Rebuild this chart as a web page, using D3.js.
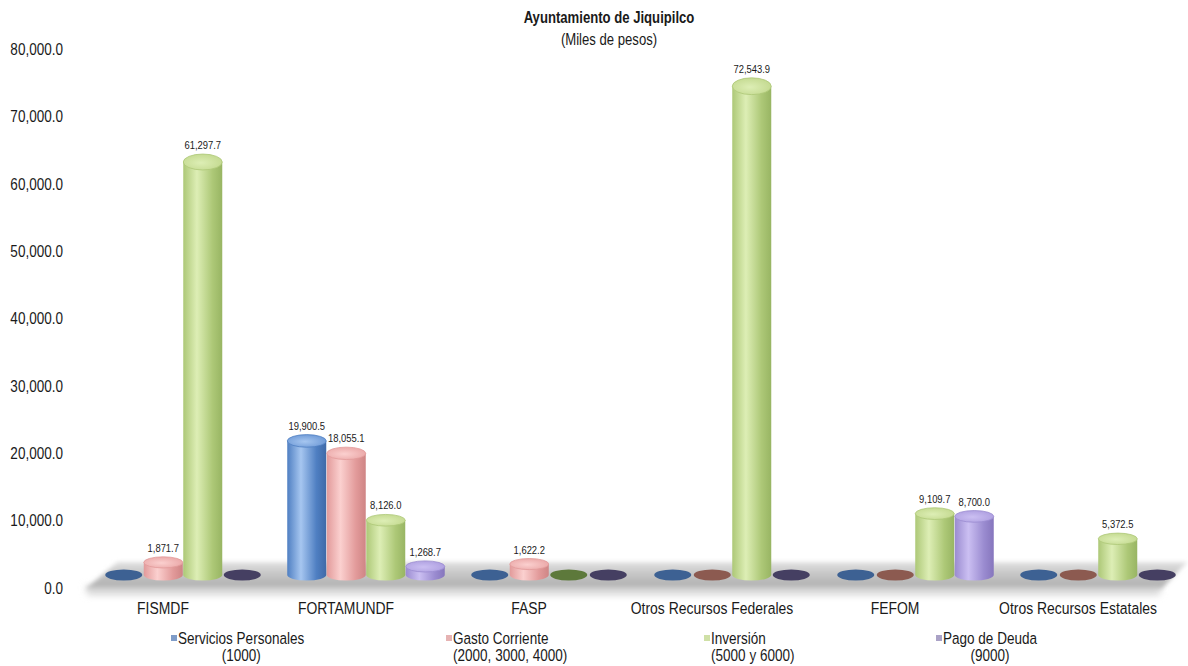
<!DOCTYPE html>
<html>
<head>
<meta charset="utf-8">
<script src="https://cdn.jsdelivr.net/npm/d3@7"></script>
<style>
  html, body { margin: 0; padding: 0; background: #fff; }
  svg { display: block; }
  text { font-family: 'Liberation Sans', Arial, sans-serif; fill: #1a1a1a; }
</style>
</head>
<body>
<svg id="chart" width="1188" height="666"></svg>
<script>
// ---------------- DATA ----------------
const categories = ["FISMDF", "FORTAMUNDF", "FASP", "Otros Recursos Federales", "FEFOM", "Otros Recursos Estatales"];
const seriesLabels = [
  ["Servicios Personales", "(1000)"],
  ["Gasto Corriente", "(2000, 3000, 4000)"],
  ["Inversión", "(5000 y 6000)"],
  ["Pago de Deuda", "(9000)"]
];
const serviciosPersonales = [0, 19900.5, 0, 0, 0, 0];
const gastoCorriente      = [1871.7, 18055.1, 1622.2, 0, 0, 0];
const inversion           = [61297.7, 8126.0, 0, 72543.9, 9109.7, 5372.5];
const pagoDeuda           = [0, 1268.7, 0, 0, 8700.0, 0];
const yTicks = [0, 10000, 20000, 30000, 40000, 50000, 60000, 70000, 80000];
const title = "Ayuntamiento de Jiquipilco";
const subtitle = "(Miles de pesos)";

const seriesValues = [serviciosPersonales, gastoCorriente, inversion, pagoDeuda];

// ---------------- STYLE ----------------
const NARROW = 0.82;
const palette = [
  { edge: "#4f7fc2", light: "#a6c6f0", dark: "#3f6aa8", top: "#6c98d6", zero: "#3d6193", legend: "#7f9cc8" },
  { edge: "#e29a9a", light: "#fbd0cf", dark: "#cf8585", top: "#eaa7a7", zero: "#8c5a50", legend: "#e6b3b3" },
  { edge: "#adc877", light: "#ddeeb5", dark: "#98b563", top: "#c3d98f", zero: "#5d793b", legend: "#cfe0a6" },
  { edge: "#9a8bd0", light: "#cbbff2", dark: "#8676bd", top: "#ae9fe0", zero: "#453f62", legend: "#aaa2c6" }
];

const svg = d3.select("#chart");

function narrowText(parent, tx, ty, str, size, anchor, extra) {
  const t = parent.append("text")
    .attr("transform", `translate(${tx},${ty}) scale(${NARROW},1)`)
    .attr("x", 0).attr("y", 0)
    .attr("font-size", size)
    .attr("text-anchor", anchor || "start")
    .text(str);
  if (extra) extra(t);
  return t;
}

const y = d3.scaleLinear().domain([0, 80000]).range([588, 49]);
const x = d3.scaleBand().domain(categories).range([71.5, 1169.5]).padding(0);
const inner = d3.scaleBand().domain(d3.range(seriesValues.length)).range([0, 158]).padding(0);

const depthX = 40, depthY = -26;
const barDX = depthX / 2, barDY = depthY / 2;
const rx = 19.5;

const defs = svg.append("defs");

const fg = defs.append("linearGradient").attr("id", "floorGrad").attr("x1", 0).attr("y1", 0).attr("x2", 0).attr("y2", 1);
fg.append("stop").attr("offset", "0%").attr("stop-color", "#e2e2e2");
fg.append("stop").attr("offset", "35%").attr("stop-color", "#cbcbcb");
fg.append("stop").attr("offset", "80%").attr("stop-color", "#b4b4b4");
fg.append("stop").attr("offset", "100%").attr("stop-color", "#c4c4c4");

const blur = defs.append("filter").attr("id", "blur").attr("x", "-5%").attr("y", "-50%").attr("width", "110%").attr("height", "200%");
blur.append("feGaussianBlur").attr("stdDeviation", 2.2);
const blur2 = defs.append("filter").attr("id", "blur2").attr("x", "-5%").attr("y", "-80%").attr("width", "110%").attr("height", "260%");
blur2.append("feGaussianBlur").attr("stdDeviation", 3.5);

palette.forEach((p, i) => {
  const g = defs.append("linearGradient").attr("id", "cyl" + i).attr("x1", 0).attr("y1", 0).attr("x2", 1).attr("y2", 0);
  g.append("stop").attr("offset", "0%").attr("stop-color", p.edge);
  g.append("stop").attr("offset", "35%").attr("stop-color", p.light);
  g.append("stop").attr("offset", "75%").attr("stop-color", p.edge);
  g.append("stop").attr("offset", "100%").attr("stop-color", p.dark);
  const t = defs.append("radialGradient").attr("id", "top" + i).attr("cx", "45%").attr("cy", "55%").attr("r", "60%");
  t.append("stop").attr("offset", "0%").attr("stop-color", p.light);
  t.append("stop").attr("offset", "100%").attr("stop-color", p.top);
});

// ---------------- TITLE ----------------
narrowText(svg, 609, 23, title, 16, "middle", t => t.attr("font-weight", "bold"));
narrowText(svg, 609, 45, subtitle, 16, "middle");

// ---------------- Y AXIS ----------------
const yAxis = d3.axisLeft(y).tickValues(yTicks).tickSize(0).tickPadding(0)
  .tickFormat(d => d3.format(",.1f")(d));
const ya = svg.append("g").attr("transform", "translate(63,0)").call(yAxis);
ya.select(".domain").remove();
ya.selectAll("text").attr("font-size", 16.5).attr("fill", "#1a1a1a")
  .attr("transform", `scale(${NARROW},1)`)
  .style("font-family", "'Liberation Sans', Arial, sans-serif");

// ---------------- FLOOR ----------------
const y0 = y(0);
const fx0 = x.range()[0], fx1 = x.range()[1];
const floorPts = [
  [fx0 + 14, y0 + 1], [fx1 - 8, y0 + 1], [fx1 + depthX - 22, y0 + depthY], [fx0 + depthX + 6, y0 + depthY]
];
svg.append("path")
  .attr("d", d3.line()([[fx0 + 14, y0 - 2], [fx1 - 8, y0 - 2], [fx1 - 10, y0 + 7], [fx0 + 16, y0 + 7]]) + "Z")
  .attr("fill", "#d6d6d6").attr("filter", "url(#blur2)");
svg.append("path").attr("d", d3.line()(floorPts) + "Z")
  .attr("fill", "url(#floorGrad)").attr("filter", "url(#blur)");

// ---------------- BARS ----------------
const groups = svg.append("g").selectAll("g.cat").data(categories).join("g").attr("class", "cat");

groups.each(function (cat, ci) {
  const g = d3.select(this);
  seriesValues.forEach((vals, si) => {
    const v = vals[ci];
    const p = palette[si];
    const cx = x(cat) + x.bandwidth() / 2 - inner.range()[1] / 2 + inner(si) + inner.bandwidth() / 2 + barDX;
    const yb = y(0) + barDY;
    const yt = y(v) + barDY;
    const ryB = 5.5;
    if (v === 0) {
      g.append("ellipse").attr("cx", cx).attr("cy", yb).attr("rx", rx - 1).attr("ry", ryB)
        .attr("fill", p.zero);
      return;
    }
    const ryT = 5.5 + 3.2 * (v / 80000);
    const body = `M${cx - rx},${yt} L${cx - rx},${yb} A${rx},${ryB} 0 0 0 ${cx + rx},${yb} L${cx + rx},${yt} Z`;
    g.append("path").attr("d", body).attr("fill", `url(#cyl${si})`);
    g.append("ellipse").attr("cx", cx).attr("cy", yt).attr("rx", rx).attr("ry", ryT)
      .attr("fill", `url(#top${si})`).attr("stroke", p.edge).attr("stroke-width", 0.8);
    narrowText(g, cx, yt - ryT - 5, d3.format(",.1f")(v), 11.5, "middle", t => t.attr("fill", "#3a3a3a"));
  });
});

// ---------------- X LABELS ----------------
const xl = svg.append("g");
categories.forEach(c => narrowText(xl, x(c) + x.bandwidth() / 2, 614, c, 17, "middle"));

// ---------------- LEGEND ----------------
const legendMarkerX = [172, 447, 705, 937];
const lg = svg.append("g");
seriesLabels.forEach((lines, i) => {
  const mx = legendMarkerX[i];
  const item = lg.append("g");
  const t1 = item.append("text").attr("font-size", 16.5).text(lines[0]);
  const t2 = item.append("text").attr("font-size", 16.5).text(lines[1]);
  const w1 = t1.node().getComputedTextLength() * NARROW, w2 = t2.node().getComputedTextLength() * NARROW;
  const bw = Math.max(w1, w2);
  const bx = mx + 6;
  t1.attr("text-anchor", "start").attr("transform", `translate(${bx},644) scale(${NARROW},1)`);
  t2.attr("text-anchor", "middle").attr("transform", `translate(${bx + bw / 2},661) scale(${NARROW},1)`);
  item.append("rect").attr("x", mx - 1).attr("y", 635).attr("width", 6).attr("height", 6)
    .attr("fill", palette[i].legend);
});
</script>
</body>
</html>
